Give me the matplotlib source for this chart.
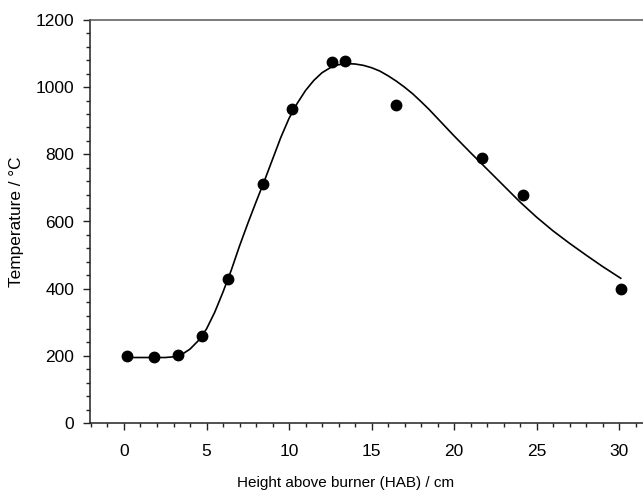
import matplotlib
matplotlib.use("Agg")
import matplotlib.pyplot as plt
from matplotlib.ticker import MultipleLocator
from matplotlib.transforms import blended_transform_factory

# measured points
hab = [0.2, 1.8, 3.3, 4.7, 6.3, 8.4, 10.2, 12.6, 13.4, 16.5, 21.7, 24.2, 30.1]
temp = [200, 197, 203, 260, 430, 711, 934, 1075, 1078, 947, 788, 679, 398]

# fitted curve
curve_x = [0.2, 1.0, 2.0, 2.5, 3.0, 3.5, 4.0, 4.5, 5.0, 5.5, 6.0, 6.5, 7.0, 7.5,
           8.0, 8.5, 9.0, 9.5, 10.0, 10.5, 11.0, 11.5, 12.0, 12.5, 13.0, 13.5,
           14.0, 14.5, 15.0, 15.5, 16.0, 16.5, 17.0, 17.5, 18.0, 18.5, 19.0,
           19.5, 20.0, 21.0, 22.0, 23.0, 24.0, 25.0, 26.0, 27.0, 28.0, 29.0, 30.1]
curve_y = [195, 195, 195, 195, 197, 204, 220, 245, 280, 330, 390, 455, 527, 594,
           658, 720, 785, 850, 907, 952, 990, 1020, 1043, 1058, 1067, 1070,
           1069, 1065, 1058, 1048, 1034, 1018, 1000, 980, 957, 933, 907,
           881, 855, 805, 756, 707, 658, 613, 572, 535, 500, 466, 431]

xticks = [0, 5, 10, 15, 20, 25, 30]
yticks = [0, 200, 400, 600, 800, 1000, 1200]

plt.rcParams['font.family'] = ['Liberation Sans', 'DejaVu Sans']

W, H = 643, 492
fig = plt.figure(figsize=(W / 100, H / 100), dpi=100)
ax = fig.add_axes([90 / W, 1 - 423 / H, (W - 90) / W, (423 - 20) / H])

ax.plot(curve_x, curve_y, color='black', lw=1.2, zorder=2, solid_joinstyle='round')
ax.plot(hab, temp, 'o', color='black', ms=7.5, zorder=3)

ax.set_xlim(-2.06, 31.45)
ax.set_ylim(0, 1200)
ax.set_xticks(xticks)
ax.set_yticks(yticks)
ax.xaxis.set_minor_locator(MultipleLocator(1))
ax.yaxis.set_minor_locator(MultipleLocator(40))
ax.tick_params(axis='both', which='major', labelsize=12.5, length=5, width=1, color='#222222')
ax.tick_params(axis='both', which='minor', length=3, width=1, color='#222222')
ax.tick_params(axis='x', which='major', pad=10)
ax.tick_params(axis='y', which='major', pad=6.5)

ax.spines['right'].set_visible(False)
for s in ['left', 'bottom', 'top']:
    ax.spines[s].set_linewidth(1.1)
    ax.spines[s].set_color('#222222')
ax.spines['top'].set_color('#555555')

ax.set_ylabel('Temperature / \u00b0C', fontsize=12.4, labelpad=8)
tr = blended_transform_factory(ax.transData, fig.transFigure)
ax.text(13.45, 1 - 487 / H, 'Height above burner (HAB) / cm', transform=tr,
        ha='center', va='baseline', fontsize=11)

fig.savefig('out.png', dpi=100)
